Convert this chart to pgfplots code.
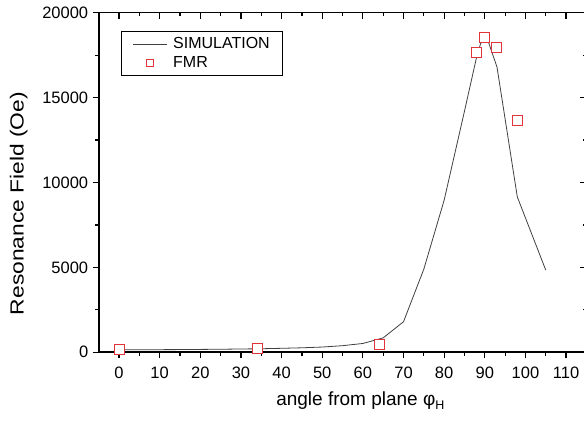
\documentclass[border=0pt]{standalone}
\usepackage{pgfplots}
\pgfplotsset{compat=1.18}
\usepackage{fontspec}
\setmainfont{Liberation Sans}

\definecolor{simgray}{HTML}{404040}
\definecolor{fmrred}{HTML}{E0343A}

\pgfplotstableread{
angle field
0 150
5 150
10 155
15 160
20 170
25 180
30 195
35 210
40 235
45 265
50 310
55 390
60 520
65 850
70 1800
75 4900
80 8960
85 14200
88 17400
89 18200
90 18450
91 18200
93 16800
98 9150
105 4840
}\simdata

\pgfplotstableread{
angle field
0 150
34 220
64 450
88 17650
90 18550
93 17940
98 13650
}\fmrdata

\pgfplotsset{
  frame/.style={
    scale only axis,
    width=487.7bp, height=339.6bp,
    xmin=-5, xmax=115, ymin=0, ymax=20000,
    xtick={0,10,...,110}, minor x tick num=1,
    ytick={0,5000,...,20000}, minor y tick num=1,
    scaled y ticks=false, scaled x ticks=false,
    major tick length=6bp, minor tick length=3.5bp,
    every tick/.style={black, line width=1.2bp},
    axis line style={line width=1.6bp, black},
  },
  simleg/.style={legend image code/.code={\draw[##1] (0bp,0bp) -- (34bp,0bp);}},
  fmrleg/.style={legend image code/.code={\draw[mark repeat=2, mark phase=2, ##1, mark size=3.6bp]
    plot coordinates {(0bp,0bp) (17bp,0bp) (34bp,0bp)};}},
}

\begin{document}
\begin{tikzpicture}
\path[use as bounding box] (-98.7bp,-69.7bp) rectangle (485.3bp,352.3bp);

% inward ticks on the top and right sides
\begin{axis}[frame,
  tick align=inside,
  xtick pos=top, ytick pos=right,
  xticklabels={}, yticklabels={},
]
\end{axis}

\begin{axis}[frame,
  tick align=outside,
  xtick pos=bottom, ytick pos=left,
  /pgf/number format/1000 sep={},
  /pgf/number format/assume math mode=true,
  tick label style={font=\fontsize{16.5bp}{18bp}\selectfont, black},
  xticklabel style={yshift=-5bp},
  yticklabel style={xshift=-1bp},
  xlabel={\fontsize{19bp}{21bp}\selectfont angle from plane φ\raisebox{-0.45ex}{\fontsize{12.5bp}{13bp}\selectfont H}},
  xlabel style={at={(axis description cs:0.5365,0)}, anchor=base, yshift=-52.7bp},
  ylabel={\scalebox{1.2}[1]{\fontsize{19bp}{21bp}\selectfont Resonance Field (Oe)}},
  ylabel style={at={(axis description cs:-0.164,0.438)}, anchor=center},
  legend style={
    at={(0.0457,0.946)}, anchor=north west,
    draw=black, line width=0.8bp,
    font=\fontsize{16bp}{18bp}\selectfont,
    inner xsep=11bp, inner ysep=4.3bp,
    nodes={inner sep=2bp},
    column sep=4bp,
    row sep=2.5bp,
    legend cell align=left,
  },
]
\addplot[simgray, line width=0.8bp, simleg]
  table[x=angle, y=field] {\simdata};
\addlegendentry{SIMULATION}

\addplot[color=fmrred, only marks, mark=square*, mark size=5bp,
  mark options={fill=white, line width=1bp}, fmrleg]
  table[x=angle, y=field] {\fmrdata};
\addlegendentry{FMR}
\end{axis}
\end{tikzpicture}
\end{document}
